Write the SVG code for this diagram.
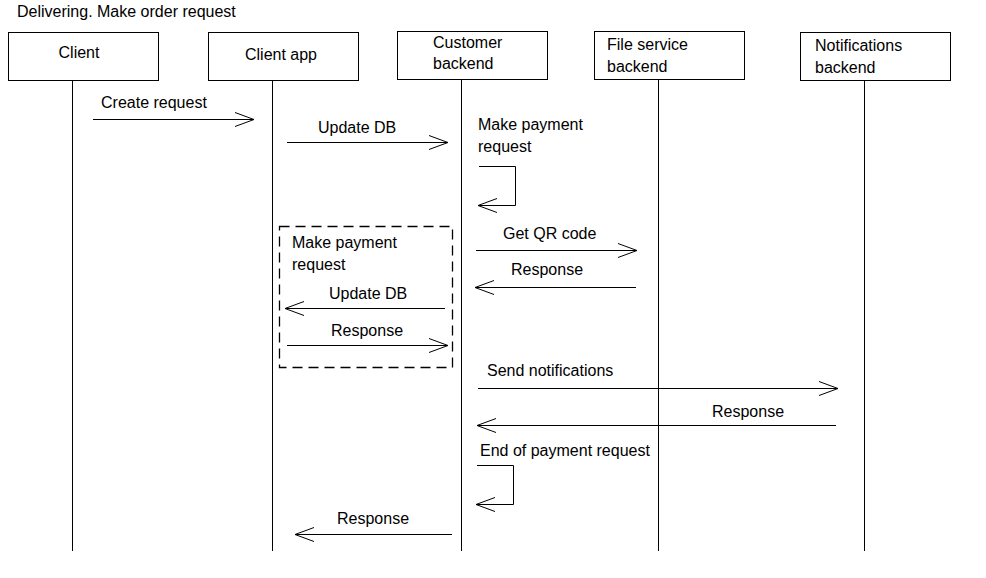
<svg xmlns="http://www.w3.org/2000/svg" width="986" height="578" viewBox="0 0 986 578">
<style>
text{font-family:"Liberation Sans",Arial,sans-serif;font-size:16px;fill:#000}
.box{fill:#fff;stroke:#000;stroke-width:1}
.life{stroke:#000;stroke-width:1}
.msg{fill:none;stroke:#000;stroke-width:1}
.frag{fill:none;stroke:#000;stroke-width:1.3;stroke-dasharray:10 6}
</style>
<defs>
<marker id="open" viewBox="0 0 20 16" refX="19" refY="7.5" markerWidth="20" markerHeight="16" markerUnits="userSpaceOnUse" orient="auto">
<path d="M0,0.5 L19,7.5 L0,14.5" fill="none" stroke="#000" stroke-width="1"/>
</marker>
</defs>
<rect width="986" height="578" fill="#fff"/>
<text x="17" y="17">Delivering. Make order request</text>
<g id="lifelines">
<line class="life" x1="72.5" y1="80" x2="72.5" y2="551"/>
<line class="life" x1="272.5" y1="80" x2="272.5" y2="551"/>
<line class="life" x1="461.5" y1="79" x2="461.5" y2="551"/>
<line class="life" x1="658.5" y1="79" x2="658.5" y2="551"/>
<line class="life" x1="864.5" y1="80" x2="864.5" y2="551"/>
</g>
<g id="client"><rect class="box" x="8.5" y="32.5" width="150" height="48"/><text x="79" y="58" text-anchor="middle">Client</text></g>
<g id="client-app"><rect class="box" x="208.5" y="32.5" width="150" height="48"/><text x="281" y="60" text-anchor="middle">Client app</text></g>
<g id="customer-backend"><rect class="box" x="397.5" y="31.5" width="150" height="48"/><text x="433" y="48">Customer</text><text x="433" y="69">backend</text></g>
<g id="file-service"><rect class="box" x="594.5" y="31.5" width="150" height="48"/><text x="607" y="50">File service</text><text x="607" y="72">backend</text></g>
<g id="notifications"><rect class="box" x="800.5" y="32.5" width="150" height="48"/><text x="815" y="51">Notifications</text><text x="815" y="73">backend</text></g>
<g id="fragment"><rect class="frag" x="279.5" y="226.5" width="173" height="141"/><text x="292" y="248">Make payment</text><text x="292" y="270">request</text></g>
<g id="connectors">
<line class="msg" x1="93" y1="119.5" x2="254" y2="119.5" marker-end="url(#open)"/>
<text x="101" y="108">Create request</text>
<line class="msg" x1="287" y1="142.5" x2="448" y2="142.5" marker-end="url(#open)"/>
<text x="318" y="133">Update DB</text>
<text x="478" y="130">Make payment</text><text x="478" y="152">request</text>
<polyline class="msg" points="479,166.5 515.5,166.5 515.5,205.5 478,205.5" marker-end="url(#open)"/>
<line class="msg" x1="476" y1="250.5" x2="637" y2="250.5" marker-end="url(#open)"/>
<text x="503" y="239">Get QR code</text>
<line class="msg" x1="636" y1="287.5" x2="475" y2="287.5" marker-end="url(#open)"/>
<text x="511" y="275">Response</text>
<line class="msg" x1="445" y1="308.5" x2="285" y2="308.5" marker-end="url(#open)"/>
<text x="329" y="299">Update DB</text>
<line class="msg" x1="287" y1="345.5" x2="448" y2="345.5" marker-end="url(#open)"/>
<text x="331" y="336">Response</text>
<line class="msg" x1="478" y1="388.5" x2="838" y2="388.5" marker-end="url(#open)"/>
<text x="487" y="376">Send notifications</text>
<line class="msg" x1="836" y1="425.5" x2="477" y2="425.5" marker-end="url(#open)"/>
<text x="712" y="417">Response</text>
<text x="480" y="456">End of payment request</text>
<polyline class="msg" points="477,465.5 513.5,465.5 513.5,504.5 476,504.5" marker-end="url(#open)"/>
<line class="msg" x1="452" y1="534.5" x2="295" y2="534.5" marker-end="url(#open)"/>
<text x="337" y="524">Response</text>
</g>
</svg>
